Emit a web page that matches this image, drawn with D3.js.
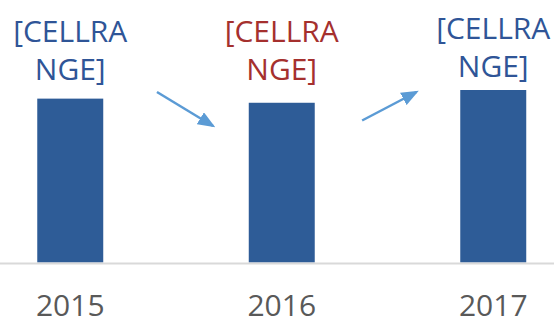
<!DOCTYPE html>
<html>
<head>
<meta charset="utf-8">
<script src="https://cdn.jsdelivr.net/npm/d3@7"></script>
<style>
  html, body { margin: 0; padding: 0; background: #ffffff; }
  svg { display: block; }
  text { font-family: "Open Sans", "Noto Sans", sans-serif; }
</style>
</head>
<body>
<svg id="chart" width="554" height="324"></svg>
<script>
// Chart data
const years = ["2015", "2016", "2017"];
const values = [4.75, 4.63, 5.00];
const labelLines = [["[CELLRA", "NGE]"], ["[CELLRA", "NGE]"], ["[CELLRA", "NGE]"]];
const labelColors = ["#2f5597", "#a5302e", "#2f5597"];

const W = 554, H = 324;
const svg = d3.select("#chart");

// The plot area is wider than the visible frame, so the outer bands are clipped at the edges
const x = d3.scaleBand()
  .domain(years)
  .range([-35.5, 599])
  .paddingInner(0.688)
  .paddingOuter(0.344);

const baseY = 262.5;
const y = d3.scaleLinear().domain([0, 5]).range([baseY, 90]);

// Bars
svg.append("g")
  .selectAll("rect")
  .data(years)
  .join("rect")
  .attr("x", d => x(d))
  .attr("y", (d, i) => y(values[i]))
  .attr("width", x.bandwidth())
  .attr("height", (d, i) => baseY - y(values[i]))
  .attr("fill", "#2e5c97");

// Category axis line
svg.append("line")
  .attr("x1", 0).attr("x2", W)
  .attr("y1", baseY + 1).attr("y2", baseY + 1)
  .attr("stroke", "#d9d9d9")
  .attr("stroke-width", 2);

// Year labels
const xAxis = d3.axisBottom(x).tickSize(0).tickPadding(0);
const axisG = svg.append("g")
  .attr("transform", `translate(0, ${baseY})`)
  .call(xAxis);
axisG.select(".domain").remove();
axisG.selectAll("text")
  .attr("y", 0)
  .attr("dy", 0)
  .attr("transform", "translate(0, 53.5)")
  .attr("font-size", 30)
  .attr("fill", "#595959")
  .attr("text-anchor", "middle");

// Data labels, wrapped over two lines, sitting above each bar but kept inside the top margin
const center = d => x(d) + x.bandwidth() / 2;
const lastLineY = i => Math.min(80, y(values[i]) - 13);
const lbl = svg.append("g")
  .selectAll("text")
  .data(years)
  .join("text")
  .attr("text-anchor", "middle")
  .attr("font-size", 30)
  .attr("fill", (d, i) => labelColors[i]);
lbl.each(function (d, i) {
  const lines = labelLines[i];
  d3.select(this).selectAll("tspan")
    .data(lines)
    .join("tspan")
    .attr("x", center(d))
    .attr("y", (t, j) => lastLineY(i) - (lines.length - 1 - j) * 38.5)
    .text(t => t);
});

// Trend arrows between neighbouring bars
const defs = svg.append("defs");
defs.append("marker")
  .attr("id", "head")
  .attr("viewBox", "0 0 10 8")
  .attr("refX", 8.5).attr("refY", 4)
  .attr("markerWidth", 7).attr("markerHeight", 5.6)
  .attr("orient", "auto")
  .attr("markerUnits", "strokeWidth")
  .append("path")
  .attr("d", "M0,0 L10,4 L0,8 Z")
  .attr("fill", "#5b9bd5");

const step = x.step();
const arrows = [
  { from: years[0], x1: 0.41, y1: 92, x2: 0.675, y2: 126 },
  { from: years[1], x1: 0.38, y1: 120.5, x2: 0.637, y2: 92 }
];
svg.append("g")
  .selectAll("line")
  .data(arrows)
  .join("line")
  .attr("x1", a => center(a.from) + a.x1 * step)
  .attr("y1", a => a.y1)
  .attr("x2", a => center(a.from) + a.x2 * step)
  .attr("y2", a => a.y2)
  .attr("stroke", "#5b9bd5")
  .attr("stroke-width", 2.5)
  .attr("marker-end", "url(#head)");
</script>
</body>
</html>
